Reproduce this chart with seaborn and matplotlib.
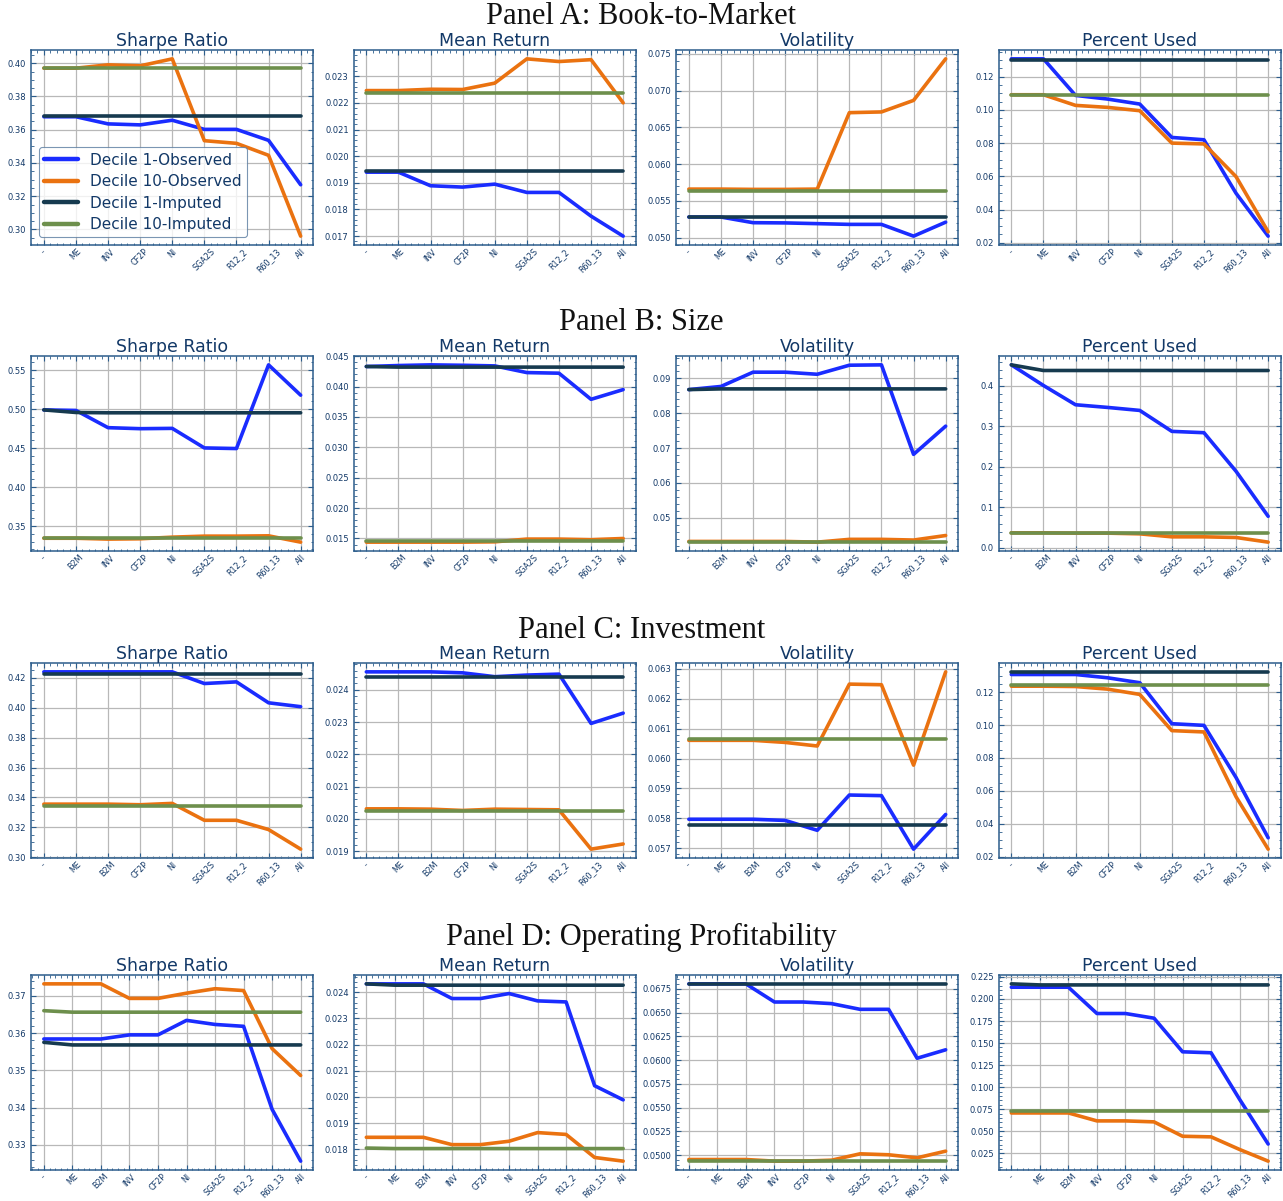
"""Decile portfolios: observed vs imputed characteristics, four sorting panels."""
import matplotlib
matplotlib.use("Agg")
import matplotlib.pyplot as plt
import numpy as np
import pandas as pd
import seaborn as sns

SERIES = ["Decile 1-Observed", "Decile 10-Observed", "Decile 1-Imputed", "Decile 10-Imputed"]
METRICS = ["Sharpe Ratio", "Mean Return", "Volatility", "Percent Used"]

CATS_A = ["-", "ME", "INV", "CF2P", "NI", "SGA2S", "R12_2", "R60_13", "All"]
CATS_B = ["-", "B2M", "INV", "CF2P", "NI", "SGA2S", "R12_2", "R60_13", "All"]
CATS_C = ["-", "ME", "B2M", "CF2P", "NI", "SGA2S", "R12_2", "R60_13", "All"]
CATS_D = ["-", "ME", "B2M", "INV", "CF2P", "NI", "SGA2S", "R12_2", "R60_13", "All"]

# Panel A: Book-to-Market
A_SHARPE = [
    [0.3678, 0.3678, 0.3635, 0.3629, 0.3657, 0.3602, 0.3602, 0.3536, 0.3269],
    [0.3970, 0.3970, 0.3990, 0.3984, 0.4026, 0.3534, 0.3518, 0.3446, 0.2960],
    [0.3685, 0.3685, 0.3685, 0.3685, 0.3685, 0.3685, 0.3685, 0.3685, 0.3685],
    [0.3970, 0.3970, 0.3970, 0.3970, 0.3970, 0.3970, 0.3970, 0.3970, 0.3970],
]
A_MEAN = [
    [0.01940, 0.01940, 0.01889, 0.01884, 0.01895, 0.01864, 0.01864, 0.01775, 0.01700],
    [0.02246, 0.02246, 0.02251, 0.02250, 0.02274, 0.02365, 0.02355, 0.02362, 0.02200],
    [0.01945, 0.01945, 0.01945, 0.01945, 0.01945, 0.01945, 0.01945, 0.01945, 0.01945],
    [0.02238, 0.02238, 0.02238, 0.02238, 0.02238, 0.02238, 0.02238, 0.02238, 0.02238],
]
A_VOL = [
    [0.0528, 0.0528, 0.05203, 0.0520, 0.0519, 0.0518, 0.0518, 0.0502, 0.0521],
    [0.0566, 0.0566, 0.05656, 0.05656, 0.0566, 0.0670, 0.0671, 0.06867, 0.07432],
    [0.0528, 0.0528, 0.0528, 0.0528, 0.0528, 0.0528, 0.0528, 0.0528, 0.0528],
    [0.05637, 0.05637, 0.05637, 0.05637, 0.05637, 0.05637, 0.05637, 0.05637, 0.05637],
]
A_PCT = [
    [0.1307, 0.1307, 0.1087, 0.1065, 0.1035, 0.0834, 0.0820, 0.0498, 0.0240],
    [0.1091, 0.1091, 0.1027, 0.1015, 0.0995, 0.0800, 0.0795, 0.0598, 0.0266],
    [0.1300, 0.1300, 0.1300, 0.1300, 0.1300, 0.1300, 0.1300, 0.1300, 0.1300],
    [0.1091, 0.1091, 0.1091, 0.1091, 0.1091, 0.1091, 0.1091, 0.1091, 0.1091],
]

# Panel B: Size
B_SHARPE = [
    [0.4990, 0.4983, 0.4762, 0.4749, 0.4753, 0.4502, 0.4494, 0.5568, 0.5179],
    [0.3343, 0.3343, 0.3332, 0.3336, 0.3357, 0.3370, 0.3370, 0.3374, 0.3293],
    [0.4990, 0.4957, 0.4953, 0.4953, 0.4953, 0.4953, 0.4953, 0.4953, 0.4953],
    [0.3343, 0.3343, 0.3343, 0.3343, 0.3343, 0.3343, 0.3343, 0.3343, 0.3343],
]
B_MEAN = [
    [0.0433, 0.04346, 0.04357, 0.0435, 0.0434, 0.0423, 0.0422, 0.0379, 0.0395],
    [0.0144, 0.0144, 0.0144, 0.0144, 0.01445, 0.0149, 0.0149, 0.0148, 0.0150],
    [0.0433, 0.0432, 0.0432, 0.0432, 0.0432, 0.0432, 0.0432, 0.0432, 0.0432],
    [0.01455, 0.01455, 0.01455, 0.01455, 0.01455, 0.01455, 0.01455, 0.01455, 0.01455],
]
B_VOL = [
    [0.0868, 0.0877, 0.0918, 0.0918, 0.0912, 0.0938, 0.0939, 0.0682, 0.0763],
    [0.0432, 0.0432, 0.0432, 0.0432, 0.0430, 0.0438, 0.0438, 0.0436, 0.0449],
    [0.0868, 0.0870, 0.0870, 0.0870, 0.0870, 0.0870, 0.0870, 0.0870, 0.0870],
    [0.0431, 0.0431, 0.0431, 0.0431, 0.0431, 0.0431, 0.0431, 0.0431, 0.0431],
]
B_PCT = [
    [0.4517, 0.4008, 0.3532, 0.3466, 0.3392, 0.2875, 0.2842, 0.1889, 0.0778],
    [0.0370, 0.0370, 0.0362, 0.0362, 0.0345, 0.0271, 0.0271, 0.0255, 0.0140],
    [0.4517, 0.4378, 0.4378, 0.4378, 0.4378, 0.4378, 0.4378, 0.4378, 0.4378],
    [0.0370, 0.0370, 0.0370, 0.0370, 0.0370, 0.0370, 0.0370, 0.0370, 0.0370],
]

# Panel C: Investment
C_SHARPE = [
    [0.4240, 0.4240, 0.4240, 0.4240, 0.4240, 0.4162, 0.4173, 0.4033, 0.4007],
    [0.3355, 0.3355, 0.3355, 0.3351, 0.3360, 0.3247, 0.3247, 0.3185, 0.3054],
    [0.4229, 0.4229, 0.4229, 0.4229, 0.4229, 0.4229, 0.4229, 0.4229, 0.4229],
    [0.3340, 0.3340, 0.3340, 0.3340, 0.3340, 0.3340, 0.3340, 0.3340, 0.3340],
]
C_MEAN = [
    [0.02456, 0.02456, 0.02456, 0.02453, 0.02441, 0.02446, 0.02449, 0.02296, 0.02328],
    [0.02031, 0.02031, 0.02030, 0.02026, 0.02030, 0.02029, 0.02028, 0.01906, 0.01922],
    [0.02440, 0.02440, 0.02440, 0.02440, 0.02440, 0.02440, 0.02440, 0.02440, 0.02440],
    [0.02025, 0.02025, 0.02025, 0.02025, 0.02025, 0.02025, 0.02025, 0.02025, 0.02025],
]
C_VOL = [
    [0.05797, 0.05797, 0.05797, 0.05793, 0.05760, 0.05878, 0.05876, 0.05697, 0.05813],
    [0.06061, 0.06061, 0.06061, 0.06054, 0.06042, 0.06249, 0.06247, 0.05978, 0.06290],
    [0.05777, 0.05777, 0.05777, 0.05777, 0.05777, 0.05777, 0.05777, 0.05777, 0.05777],
    [0.06065, 0.06065, 0.06065, 0.06065, 0.06065, 0.06065, 0.06065, 0.06065, 0.06065],
]
C_PCT = [
    [0.1307, 0.1307, 0.1307, 0.1287, 0.1257, 0.1008, 0.0998, 0.0681, 0.0315],
    [0.1236, 0.1236, 0.1234, 0.1218, 0.1186, 0.0966, 0.0958, 0.0564, 0.0246],
    [0.1323, 0.1323, 0.1323, 0.1323, 0.1323, 0.1323, 0.1323, 0.1323, 0.1323],
    [0.1242, 0.1242, 0.1242, 0.1242, 0.1242, 0.1242, 0.1242, 0.1242, 0.1242],
]

# Panel D: Operating Profitability
D_SHARPE = [
    [0.3584, 0.3584, 0.3584, 0.3595, 0.3595, 0.3634, 0.3623, 0.3618, 0.3395, 0.3256],
    [0.3732, 0.3732, 0.3732, 0.3693, 0.3693, 0.3707, 0.3719, 0.3714, 0.3558, 0.3486],
    [0.3575, 0.3568, 0.3568, 0.3568, 0.3568, 0.3568, 0.3568, 0.3568, 0.3568, 0.3568],
    [0.3660, 0.3656, 0.3656, 0.3656, 0.3656, 0.3656, 0.3656, 0.3656, 0.3656, 0.3656],
]
D_MEAN = [
    [0.02432, 0.02432, 0.02432, 0.02376, 0.02376, 0.02395, 0.02367, 0.02363, 0.02043, 0.01989],
    [0.01846, 0.01846, 0.01846, 0.01818, 0.01818, 0.01831, 0.01864, 0.01857, 0.01769, 0.01755],
    [0.02432, 0.02427, 0.02427, 0.02427, 0.02427, 0.02427, 0.02427, 0.02427, 0.02427, 0.02427],
    [0.01805, 0.01803, 0.01803, 0.01803, 0.01803, 0.01803, 0.01803, 0.01803, 0.01803, 0.01803],
]
D_VOL = [
    [0.06803, 0.06803, 0.06803, 0.06612, 0.06612, 0.06595, 0.06535, 0.06535, 0.06020, 0.06109],
    [0.04954, 0.04954, 0.04954, 0.04937, 0.04937, 0.04947, 0.05014, 0.05004, 0.04972, 0.05042],
    [0.06803, 0.06803, 0.06803, 0.06803, 0.06803, 0.06803, 0.06803, 0.06803, 0.06803, 0.06803],
    [0.04937, 0.04937, 0.04937, 0.04937, 0.04937, 0.04937, 0.04937, 0.04937, 0.04937, 0.04937],
]
D_PCT = [
    [0.2133, 0.2133, 0.2133, 0.1835, 0.1835, 0.1782, 0.1401, 0.1390, 0.0862, 0.0356],
    [0.0708, 0.0708, 0.0708, 0.0618, 0.0618, 0.0607, 0.0444, 0.0437, 0.0294, 0.0162],
    [0.2171, 0.2159, 0.2159, 0.2159, 0.2159, 0.2159, 0.2159, 0.2159, 0.2159, 0.2159],
    [0.0727, 0.0727, 0.0727, 0.0727, 0.0727, 0.0727, 0.0727, 0.0727, 0.0727, 0.0727],
]

PANELS = [
    ("Panel A: Book-to-Market", CATS_A, [A_SHARPE, A_MEAN, A_VOL, A_PCT]),
    ("Panel B: Size", CATS_B, [B_SHARPE, B_MEAN, B_VOL, B_PCT]),
    ("Panel C: Investment", CATS_C, [C_SHARPE, C_MEAN, C_VOL, C_PCT]),
    ("Panel D: Operating Profitability", CATS_D, [D_SHARPE, D_MEAN, D_VOL, D_PCT]),
]

COLORS = dict(zip(SERIES, ["#1a2cff", "#ea7210", "#163a4f", "#6d8f4c"]))
NAVY = "#123867"
SPINE = "#2c5d8c"

W, H = 1283, 1201
ROW_TOPS = [50, 356, 663, 975]
ROW_TITLES_Y = [17, 323, 630, 937]
AX_H = 195


def long_frame(cats, values):
    rows = []
    for name, vals in zip(SERIES, values):
        for i, v in enumerate(vals):
            rows.append({"pos": i, "factor": cats[i], "value": v, "series": name})
    return pd.DataFrame(rows)


def style_axis(ax, cats):
    ax.set_xticks(np.arange(len(cats)))
    ax.set_xticklabels(cats, rotation=45, ha="center")
    ax.minorticks_on()
    ax.tick_params(which="both", direction="in", top=True, right=True,
                   color=SPINE, labelcolor=NAVY, labelsize=6)
    ax.tick_params(axis="x", labelsize=5.8, pad=1.5)
    ax.tick_params(which="major", length=3.5, width=0.8)
    ax.tick_params(which="minor", length=1.8, width=0.6)
    ax.grid(True, which="major", color="#b8b8b8", linewidth=0.9)
    for spine in ax.spines.values():
        spine.set_color(SPINE)
        spine.set_linewidth(1.1)
    ax.set_xlabel("")
    ax.set_ylabel("")


def main():
    sns.set_theme(style="ticks")
    plt.rcParams["font.family"] = ["DejaVu Sans"]
    fig = plt.figure(figsize=(W / 100, H / 100), dpi=100)

    for r, (title, cats, metric_vals) in enumerate(PANELS):
        top = 1 - ROW_TOPS[r] / H
        bottom = 1 - (ROW_TOPS[r] + AX_H) / H
        gs = fig.add_gridspec(1, 4, left=31 / W, right=1281 / W, top=top,
                              bottom=bottom, wspace=0.1416)
        fig.text(0.5, 1 - ROW_TITLES_Y[r] / H, title, ha="center", va="center",
                 family=["Liberation Serif", "DejaVu Serif"], fontsize=22, color="#111111")
        for c, (metric, values) in enumerate(zip(METRICS, metric_vals)):
            ax = fig.add_subplot(gs[0, c])
            df = long_frame(cats, values)
            show_legend = r == 0 and c == 0
            sns.lineplot(data=df, x="pos", y="value", hue="series", hue_order=SERIES,
                         palette=COLORS, linewidth=2.6, sort=False, ax=ax,
                         legend=show_legend)
            style_axis(ax, cats)
            ax.set_title(metric, fontsize=12.5, color=NAVY, pad=2)
            if show_legend:
                leg = ax.legend(loc="lower left", fontsize=11, handlelength=2.2,
                                frameon=True, fancybox=True, borderpad=0.35,
                                labelspacing=0.42, handletextpad=0.8)
                leg.get_frame().set_edgecolor("#5a7ca0")
                leg.get_frame().set_linewidth(0.8)
                for line in leg.get_lines():
                    line.set_linewidth(3.2)
                for text in leg.get_texts():
                    text.set_color(NAVY)

    fig.savefig("out.png", dpi=100, facecolor="white")
    plt.close(fig)


if __name__ == "__main__":
    main()
